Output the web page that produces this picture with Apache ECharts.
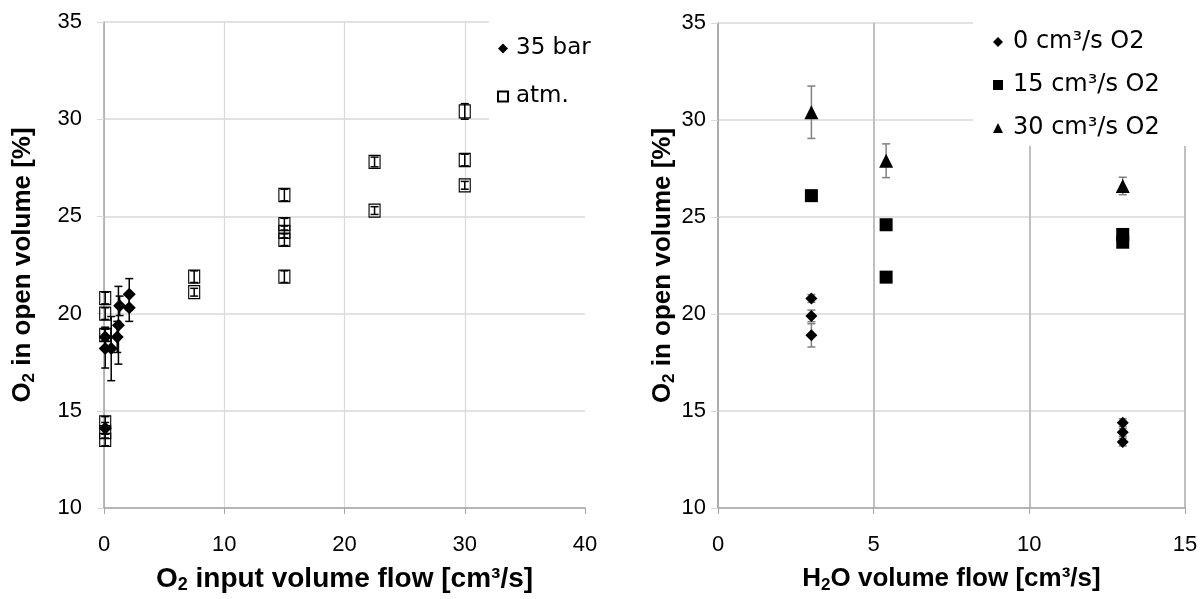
<!DOCTYPE html>
<html>
<head>
<meta charset="utf-8">
<script src="https://cdn.jsdelivr.net/npm/echarts@6/dist/echarts.min.js"></script>
<style>
    html, body { margin: 0; padding: 0; background: #ffffff; }
    #chart { width: 1203px; height: 599px; }
</style>
</head>
<body>
<div id="chart"></div>
<script>
// left chart: O2 input volume flow vs O2 in open volume
var leftBarX   = [0.1, 0.1, 0.1, 0.6, 1.1, 1.2, 1.3, 2.1, 2.1];
var leftBarY   = [18.8, 18.2, 14.1, 18.2, 18.8, 19.4, 20.4, 20.3, 21.0];
var leftBarErr = [0.5, 1.0, 0.3, 1.65, 0.8, 2.0, 0.5, 0.7, 0.8];

var leftAtmX   = [0.1, 0.1, 0.1, 0.1, 0.1, 0.1, 7.5, 7.5, 15, 15, 15, 15, 15, 22.5, 22.5, 30, 30, 30];
var leftAtmY   = [20.8, 20.0, 18.9, 14.4, 13.9, 13.5, 21.9, 21.1, 26.1, 24.6, 24.2, 23.8, 21.9, 27.8, 25.3, 30.4, 27.9, 26.6];
var leftAtmErr = [0.3, 0.3, 0.3, 0.3, 0.3, 0.3, 0.3, 0.2, 0.3, 0.3, 0.3, 0.3, 0.3, 0.25, 0.2, 0.4, 0.3, 0.2];

// right chart: H2O volume flow vs O2 in open volume
var rightO0X   = [3, 3, 3, 13, 13, 13];
var rightO0Y   = [20.8, 19.9, 18.9, 14.4, 13.9, 13.4];
var rightO0Err = [0.2, 0.3, 0.6, 0.2, 0.2, 0.2];

var rightO15X   = [3, 5.4, 5.4, 13, 13];
var rightO15Y   = [26.1, 24.6, 21.9, 24.1, 23.7];
var rightO15Err = [0.2, 0.15, 0.15, 0.15, 0.15];

var rightO30X   = [3, 5.4, 13];
var rightO30Y   = [30.4, 27.9, 26.6];
var rightO30Err = [1.35, 0.87, 0.45];

var leftXTicks  = [0, 10, 20, 30, 40];
var rightXTicks = [0, 5, 10, 15];
var yTicks      = [10, 15, 20, 25, 30, 35];

var leftNames  = ['35 bar', 'atm.'];
var rightNames = ['0 cm³/s O2', '15 cm³/s O2', '30 cm³/s O2'];

var FONT = "'Liberation Sans', Arial, sans-serif";
var WIDE = "'DejaVu Sans', sans-serif";

function pts(xs, ys) {
    return xs.map(function (x, i) { return [x, ys[i]]; });
}
function errPts(xs, ys, es) {
    return xs.map(function (x, i) { return [x, ys[i], es[i]]; });
}

function errorBarSeries(xi, yi, data, color) {
    return {
        type: 'custom',
        xAxisIndex: xi,
        yAxisIndex: yi,
        z: 1,
        silent: true,
        data: data,
        renderItem: function (params, api) {
            var x = api.value(0), y = api.value(1), e = api.value(2);
            var top = api.coord([x, y + e]);
            var bot = api.coord([x, y - e]);
            var hw = 4;
            var st = { stroke: color, lineWidth: 1.5 };
            return {
                type: 'group',
                children: [
                    { type: 'line', shape: { x1: top[0], y1: top[1], x2: bot[0], y2: bot[1] }, style: st },
                    { type: 'line', shape: { x1: top[0] - hw, y1: top[1], x2: top[0] + hw, y2: top[1] }, style: st },
                    { type: 'line', shape: { x1: bot[0] - hw, y1: bot[1], x2: bot[0] + hw, y2: bot[1] }, style: st }
                ]
            };
        }
    };
}

function subRich(size) {
    return {
        b: { fontSize: size, fontWeight: 'bold', fontFamily: FONT, color: '#000', lineHeight: 30 },
        s: { fontSize: Math.round(size * 0.65), fontWeight: 'bold', fontFamily: FONT, color: '#000', lineHeight: 12, verticalAlign: 'bottom' }
    };
}

function xAxisCfg(gi, min, max, interval, name, nameSize, showMax, gridColor) {
    return {
        gridIndex: gi, type: 'value', min: min, max: max, interval: interval,
        name: name, nameLocation: 'middle', nameGap: 56,
        nameTextStyle: { rich: subRich(nameSize) },
        axisLine: { show: true, onZero: false, lineStyle: { color: '#a6a6a6', width: 1.5 } },
        axisTick: { show: true, length: 6, lineStyle: { color: '#a6a6a6' } },
        axisLabel: { fontSize: 22, fontFamily: FONT, color: '#000', margin: 26 },
        splitLine: { show: true, showMaxLine: showMax, lineStyle: { color: gridColor, width: gi === 1 ? 2 : 1.2 } }
    };
}
function yAxisCfg(gi, margin, nameGap) {
    return {
        gridIndex: gi, type: 'value', min: yTicks[0], max: yTicks[yTicks.length - 1], interval: 5,
        name: '{b|O}{s|2}{b| in open volume [%]}', nameLocation: 'middle', nameGap: nameGap,
        nameTextStyle: { rich: subRich(26) },
        axisLine: { show: true, onZero: false, lineStyle: { color: '#a6a6a6', width: 1.5 } },
        axisTick: { show: true, length: 7, lineStyle: { color: '#d9d9d9' } },
        axisLabel: { fontSize: 22, fontFamily: FONT, color: '#000', margin: margin },
        splitLine: { show: true, lineStyle: { color: '#d9d9d9', width: 1.5 } }
    };
}

var chart = echarts.init(document.getElementById('chart'));
chart.setOption({
    backgroundColor: '#ffffff',
    animation: false,
    grid: [
        { left: 104, top: 22, width: 481, height: 487 },
        { left: 718, top: 23, width: 467, height: 485 }
    ],
    xAxis: [
        xAxisCfg(0, leftXTicks[0], leftXTicks[leftXTicks.length - 1], 10,
            '{b|O}{s|2}{b| input volume flow [cm³/s]}', 28, false, '#d9d9d9'),
        xAxisCfg(1, rightXTicks[0], rightXTicks[rightXTicks.length - 1], 5,
            '{b|H}{s|2}{b|O volume flow [cm³/s]}', 26, true, '#bfbfbf')
    ],
    yAxis: [
        yAxisCfg(0, 22, 66),
        yAxisCfg(1, 12, 34)
    ],
    legend: [
        {
            data: leftNames, orient: 'vertical', left: 489, top: 19,
            itemWidth: 10, itemHeight: 10, itemGap: 25,
            padding: [18, 40, 16, 8],
            backgroundColor: '#ffffff', z: 5,
            textStyle: { fontSize: 23, fontFamily: WIDE, color: '#000', padding: [0, 0, 0, 3] }
        },
        {
            data: rightNames, orient: 'vertical', left: 973, top: 20,
            itemWidth: 10, itemHeight: 10, itemGap: 19,
            padding: [10, 40, 6, 20],
            backgroundColor: '#ffffff', z: 5,
            textStyle: { fontSize: 24, fontFamily: WIDE, color: '#000', padding: [0, 0, 0, 5] }
        }
    ],
    series: [
        errorBarSeries(0, 0, errPts(leftAtmX, leftAtmY, leftAtmErr), '#000'),
        errorBarSeries(0, 0, errPts(leftBarX, leftBarY, leftBarErr), '#000'),
        {
            name: leftNames[1], type: 'scatter', xAxisIndex: 0, yAxisIndex: 0, z: 3,
            symbol: 'rect', symbolSize: [11, 13],
            itemStyle: { color: 'rgba(255,255,255,0)', borderColor: '#000', borderWidth: 1.2, opacity: 1 },
            data: pts(leftAtmX, leftAtmY)
        },
        {
            name: leftNames[0], type: 'scatter', xAxisIndex: 0, yAxisIndex: 0, z: 4,
            symbol: 'diamond', symbolSize: 13,
            itemStyle: { color: '#000', opacity: 1 },
            data: pts(leftBarX, leftBarY)
        },
        errorBarSeries(1, 1, errPts(rightO0X, rightO0Y, rightO0Err), '#808080'),
        errorBarSeries(1, 1, errPts(rightO15X, rightO15Y, rightO15Err), '#808080'),
        errorBarSeries(1, 1, errPts(rightO30X, rightO30Y, rightO30Err), '#808080'),
        {
            name: rightNames[0], type: 'scatter', xAxisIndex: 1, yAxisIndex: 1, z: 4,
            symbol: 'diamond', symbolSize: 12,
            itemStyle: { color: '#000', opacity: 1 },
            data: pts(rightO0X, rightO0Y)
        },
        {
            name: rightNames[1], type: 'scatter', xAxisIndex: 1, yAxisIndex: 1, z: 4,
            symbol: 'rect', symbolSize: 13,
            itemStyle: { color: '#000', opacity: 1 },
            data: pts(rightO15X, rightO15Y)
        },
        {
            name: rightNames[2], type: 'scatter', xAxisIndex: 1, yAxisIndex: 1, z: 4,
            symbol: 'triangle', symbolSize: 14,
            itemStyle: { color: '#000', opacity: 1 },
            data: pts(rightO30X, rightO30Y)
        }
    ]
});
</script>
</body>
</html>
